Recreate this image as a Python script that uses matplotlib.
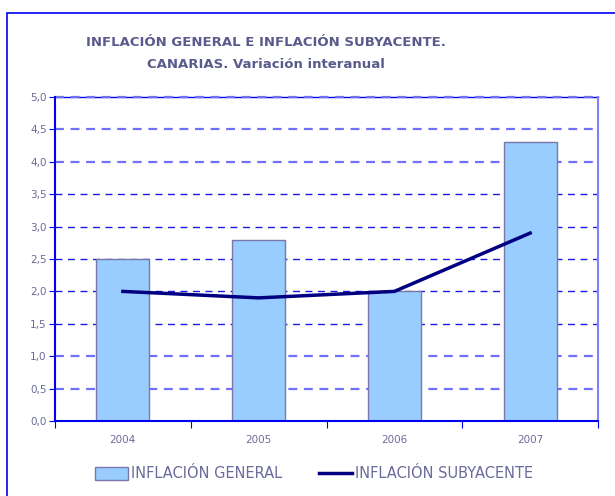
import matplotlib
matplotlib.use('Agg')
import matplotlib.pyplot as plt
from matplotlib.patches import Rectangle

years = ['2004', '2005', '2006', '2007']
general = [2.5, 2.8, 2.0, 4.3]
subyacente = [2.0, 1.9, 2.0, 2.9]
yticks = [0.0, 0.5, 1.0, 1.5, 2.0, 2.5, 3.0, 3.5, 4.0, 4.5, 5.0]

txt = '#6b6b9a'

fig = plt.figure(figsize=(6.15, 4.96), dpi=100)
ax = fig.add_axes([55 / 615, 1 - 421 / 496, 543 / 615, 324 / 496])

# outer frame
fig.patches.append(Rectangle((7 / 615, -0.1), 1.2, 1 - 13 / 496 + 0.1,
                             transform=fig.transFigure, fill=False,
                             edgecolor='#0000ee', linewidth=1.2))

x = range(len(years))
bars = ax.bar(x, general, width=0.39, color='#99ccff', edgecolor='#7777aa',
              linewidth=1.0, label='INFLACIÓN GENERAL', zorder=2)
line, = ax.plot(x, subyacente, color='#000080', linewidth=2.5,
                label='INFLACIÓN SUBYACENTE', zorder=3)

ax.set_xlim(-0.5, 3.5)
ax.set_ylim(0, 5)
ax.set_yticks(yticks)
ax.set_yticklabels([f'{v:.1f}'.replace('.', ',') for v in yticks])
ax.set_xticks([-0.5, 0.5, 1.5, 2.5, 3.5], minor=False)
ax.set_xticklabels([])
ax.set_xticks(list(x), minor=True)
ax.set_xticklabels(years, minor=True)
ax.tick_params(axis='x', which='major', direction='out', length=5,
               color='#0000ee')
ax.tick_params(axis='x', which='minor', length=0, pad=10,
               labelsize=7.5, labelcolor=txt)
ax.tick_params(axis='y', direction='out', length=4, color='#0000ee',
               labelsize=7.5, labelcolor=txt, pad=2)

# gridlines: outer ones render lighter/thicker in the original
for v in yticks[1:]:
    if v == 5.0:
        ax.axhline(v, color='#0000ee', linewidth=1.0, zorder=1, clip_on=False)
    if v <= 1.0 or v >= 4.0:
        ax.axhline(v, color='#7070ff', linestyle=(0, (4, 3)), linewidth=1.6,
                   zorder=1, clip_on=False)
    else:
        ax.axhline(v, color='#1a1ae6', linestyle=(0, (5, 4)), linewidth=1.0,
                   zorder=1)

for s in ['left', 'bottom']:
    ax.spines[s].set_color('#0000ee')
    ax.spines[s].set_linewidth(1.5)
ax.spines['right'].set_color('#8080ff')
ax.spines['right'].set_linewidth(1.5)
ax.spines['top'].set_visible(False)

fig.text(266 / 615, 1 - 43 / 496, 'INFLACIÓN GENERAL E INFLACIÓN SUBYACENTE.',
         ha='center', va='center', fontsize=9.5, fontweight='bold',
         color='#5a5a8c')
fig.text(266 / 615, 1 - 65 / 496, 'CANARIAS. Variación interanual',
         ha='center', va='center', fontsize=9.5, fontweight='bold',
         color='#5a5a8c')

leg = fig.legend([bars, line], ['INFLACIÓN GENERAL', 'INFLACIÓN SUBYACENTE'],
                 loc='center', bbox_to_anchor=(314 / 615, 1 - 474 / 496),
                 ncol=2, frameon=False, fontsize=10.5, handlelength=2.3,
                 handleheight=0.9, handletextpad=0.2, columnspacing=2.5)
for t in leg.get_texts():
    t.set_color(txt)

fig.savefig('out.png', dpi=100)
